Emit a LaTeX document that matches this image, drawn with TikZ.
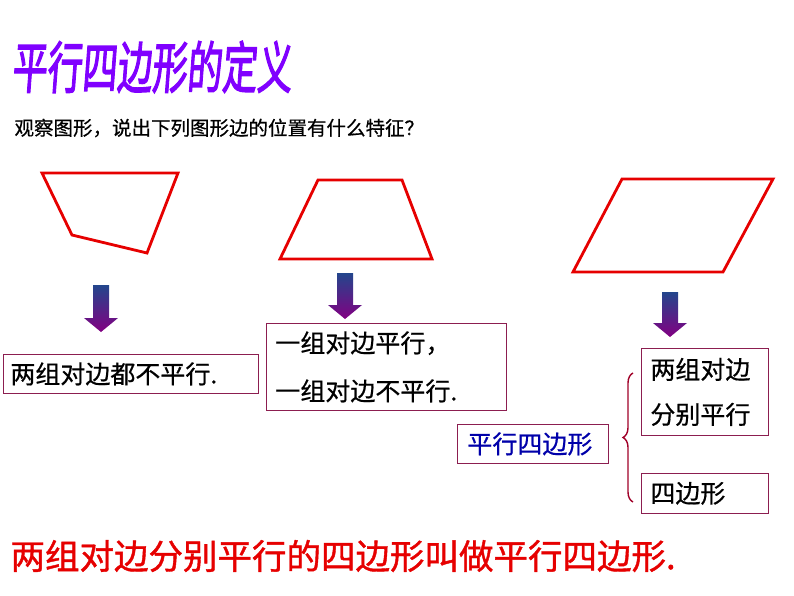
\documentclass[tikz,border=0pt]{standalone}
\usepackage{xcolor}
\usepackage{fontspec}
\setmainfont{Noto Sans CJK SC}[FakeBold=0.6]
\newfontfamily\titlefont[FakeBold=2.5,FakeSlant=0.12]{Noto Sans CJK SC}
\newfontfamily\boldcjk[FakeBold=1.2]{Noto Sans CJK SC}
\usepackage{tikz}
\usetikzlibrary{positioning,calc,decorations.pathreplacing}

\definecolor{boxline}{RGB}{140,30,80}
\definecolor{shapered}{RGB}{230,0,0}
\definecolor{arrowtop}{RGB}{35,70,140}
\definecolor{arrowbot}{RGB}{130,0,130}
\definecolor{titleviolet}{RGB}{128,0,255}
\definecolor{labelblue}{RGB}{0,0,170}
\definecolor{bracered}{RGB}{160,0,40}

\begin{document}
\begin{tikzpicture}[x=1pt,y=-1pt,
  figline/.style={draw=shapered, line width=2.8pt, line join=miter},
  textbox/.style={draw=boxline, line width=0.8pt, fill=white, anchor=north west,
    align=left, inner ysep=0pt, font=\fontsize{25}{30}\selectfont}]
\useasboundingbox (0,0) rectangle (794,596);

% title and question
\node[anchor=west, text=titleviolet, yscale=1.6, transform shape, font=\titlefont\fontsize{35}{40}\selectfont] (title) at (8,67) {平行四边形的定义};
\node[anchor=west, font=\fontsize{19.5}{22}\selectfont] (question) at (11,128) {观察图形，说出下列图形边的位置有什么特征？};

% the three figures
\draw[figline] (42,173) -- (178,173) -- (147,253) -- (72,235) -- cycle;
\draw[figline] (318,180) -- (402,180) -- (432,259) -- (280,259) -- cycle;
\draw[figline] (622,179) -- (773,179) -- (723,272) -- (573,272) -- cycle;

% arrows
\foreach \cx/\ty/\by in {101/285/332, 345/273/319, 670/292/337}
  \shade[top color=arrowtop, bottom color=arrowbot]
    (\cx-8,\ty) -- (\cx+8,\ty) -- (\cx+8,\by-14) -- (\cx+17,\by-14)
    -- (\cx,\by) -- (\cx-17,\by-14) -- (\cx-8,\by-14) -- cycle;

% answer boxes
\node[textbox, text width=241pt, minimum height=39pt, inner xsep=7pt] (none) at (3,354) {两组对边都不平行.};
\node[textbox, text width=222pt, minimum height=87pt, inner xsep=9pt,
  font=\fontsize{25}{48}\selectfont] (one) at (266,323) {一组对边平行，\\一组对边不平行.};
\node[textbox, text width=131pt, minimum height=39pt, inner xsep=10pt, text=labelblue] (para) at (457,424) {平行四边形};
\node[textbox, text width=109pt, minimum height=87pt, inner xsep=9pt,
  font=\fontsize{25}{45}\selectfont] (both) at (641,348) {两组对边\\分别平行};
\node[textbox, text width=109pt, minimum height=40pt, inner xsep=9pt] (quad) at (641,473) {四边形};

% brace
\draw[bracered, line width=1.4pt, decorate, decoration={brace, amplitude=10pt}]
  (633,502) -- (633,373);

% definition
\node[anchor=west, text=shapered, font=\boldcjk\fontsize{34.5}{40}\selectfont] (definition) at (7,556) {两组对边分别平行的四边形叫做平行四边形.};
\end{tikzpicture}
\end{document}
